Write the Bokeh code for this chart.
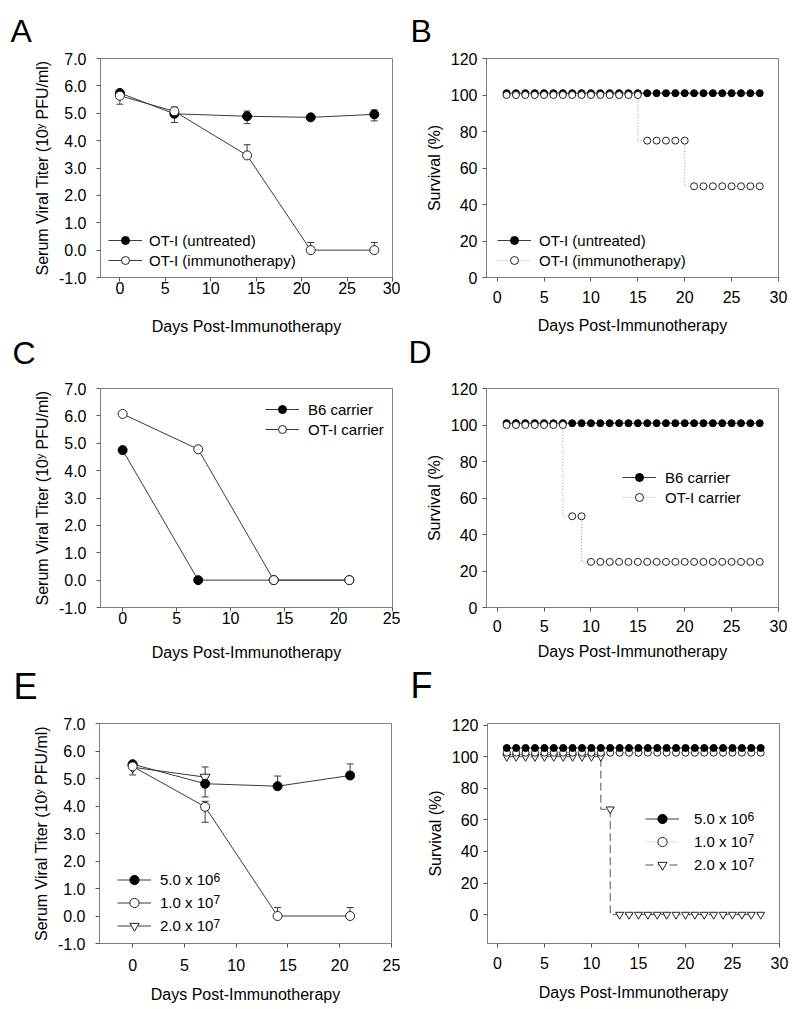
from bokeh.plotting import figure
from bokeh.models import (ColumnDataSource, Whisker, TeeHead, FixedTicker, NumeralTickFormatter,
                          Range1d, Legend, LegendItem, Label, Title)
from bokeh.layouts import column, row
from bokeh.embed import file_html
from bokeh.resources import INLINE

FONT = "Liberation Sans"

# ---------------- Data ----------------
# Panel A: serum viral titer (log10 PFU/ml)
a_days = [0, 6, 14, 21, 28]
a_untreated = [5.74, 4.98, 4.89, 4.85, 4.96]
a_untreated_err_up = [0.10, 0.00, 0.19, 0.00, 0.16]
a_untreated_err_dn = [0.00, 0.32, 0.27, 0.00, 0.24]
a_immuno = [5.64, 5.07, 3.46, 0.0, 0.0]
a_immuno_err_up = [0.00, 0.16, 0.39, 0.28, 0.28]
a_immuno_err_dn = [0.31, 0.00, 0.00, 0.00, 0.00]

# Panel B: survival (%)
surv_days = [1, 2, 3, 4, 5, 6, 7, 8, 9, 10, 11, 12, 13, 14, 15, 16, 17, 18, 19, 20,
             21, 22, 23, 24, 25, 26, 27, 28]
b_untreated = [101, 101, 101, 101, 101, 101, 101, 101, 101, 101, 101, 101, 101, 101,
               101, 101, 101, 101, 101, 101, 101, 101, 101, 101, 101, 101, 101, 101]
b_immuno = [100, 100, 100, 100, 100, 100, 100, 100, 100, 100, 100, 100, 100, 100, 100,
            75, 75, 75, 75, 75, 50, 50, 50, 50, 50, 50, 50, 50]

# Panel C: viral titer, carriers
c_days = [0, 7, 14, 21]
c_b6 = [4.75, 0.0, 0.0, 0.0]
c_ot1 = [6.07, 4.78, 0.0, 0.0]

# Panel D: survival, carriers
d_b6 = [101, 101, 101, 101, 101, 101, 101, 101, 101, 101, 101, 101, 101, 101,
        101, 101, 101, 101, 101, 101, 101, 101, 101, 101, 101, 101, 101, 101]
d_ot1 = [100, 100, 100, 100, 100, 100, 100, 50, 50, 25, 25, 25, 25, 25, 25, 25,
         25, 25, 25, 25, 25, 25, 25, 25, 25, 25, 25, 25]

# Panel E: viral titer by dose
e_days = [0, 7, 14, 21]
e_5e6 = [5.52, 4.81, 4.72, 5.11]
e_5e6_err_up = [0.00, 0.00, 0.37, 0.42]
e_5e6_err_dn = [0.00, 0.48, 0.00, 0.00]
e_1e7 = [5.44, 3.97, 0.0, 0.0]
e_1e7_err_up = [0.00, 0.20, 0.31, 0.31]
e_1e7_err_dn = [0.31, 0.56, 0.00, 0.00]
e_2e7_days = [0, 7]
e_2e7 = [5.41, 5.05]
e_2e7_err_up = [0.00, 0.37]
e_2e7_err_dn = [0.00, 0.00]

# Panel F: survival by dose
f_5e6 = [105.5, 105.5, 105.5, 105.5, 105.5, 105.5, 105.5, 105.5, 105.5, 105.5, 105.5,
         105.5, 105.5, 105.5, 105.5, 105.5, 105.5, 105.5, 105.5, 105.5, 105.5, 105.5,
         105.5, 105.5, 105.5, 105.5, 105.5, 105.5]
f_1e7 = [102.5, 102.5, 102.5, 102.5, 102.5, 102.5, 102.5, 102.5, 102.5, 102.5, 102.5,
         102.5, 102.5, 102.5, 102.5, 102.5, 102.5, 102.5, 102.5, 102.5, 102.5, 102.5,
         102.5, 102.5, 102.5, 102.5, 102.5, 102.5]
f_2e7 = [100, 100, 100, 100, 100, 100, 100, 100, 100, 100, 100, 66.7, 0, 0, 0, 0, 0,
         0, 0, 0, 0, 0, 0, 0, 0, 0, 0, 0]

dose_labels = ["5.0 x 10", "1.0 x 10", "2.0 x 10"]
dose_exponents = ["6", "7", "7"]

titer_ticks = [-1, 0, 1, 2, 3, 4, 5, 6, 7]
surv_ticks = [0, 20, 40, 60, 80, 100, 120]
x30_ticks = [0, 5, 10, 15, 20, 25, 30]
x25_ticks = [0, 5, 10, 15, 20, 25]

XLABEL = "Days Post-Immunotherapy"
YLABEL_T = "Serum Viral Titer (10\u02b8 PFU/ml)"
YLABEL_S = "Survival (%)"

LINE = "#3a3a3a"
FRAME = "#808080"


def make_fig(xr, yr, xticks, yticks, left, right, top, bottom, fh,
             xstand, xlabstand, ystand, ylabstand, yfmt=None):
    p = figure(width=left + 292 + right, height=top + fh + bottom,
               frame_width=292, frame_height=fh,
               x_range=Range1d(*xr), y_range=Range1d(*yr),
               output_backend="svg", toolbar_location=None,
               min_border_left=left, min_border_right=right,
               min_border_top=top, min_border_bottom=bottom)
    p.grid.visible = False
    p.outline_line_color = FRAME
    p.outline_line_width = 1
    p.outline_line_alpha = 1
    p.background_fill_color = "white"
    p.border_fill_color = "white"
    for ax, ticks, st, lst in ((p.xaxis, xticks, xstand, xlabstand),
                               (p.yaxis, yticks, ystand, ylabstand)):
        ax.ticker = FixedTicker(ticks=ticks)
        ax.axis_line_color = FRAME
        ax.major_tick_line_color = "#555555"
        ax.major_tick_out = 4
        ax.major_tick_in = 0
        ax.minor_tick_out = 0
        ax.minor_tick_in = 0
        ax.major_label_text_font = FONT
        ax.major_label_text_font_size = "16px"
        ax.major_label_text_color = "black"
        ax.major_label_standoff = st
        ax.axis_label_text_font = FONT
        ax.axis_label_text_font_size = "16px"
        ax.axis_label_text_font_style = "normal"
        ax.axis_label_text_color = "black"
        ax.axis_label_standoff = lst
    p.xaxis.axis_label = XLABEL
    if yfmt:
        p.yaxis.formatter = NumeralTickFormatter(format=yfmt)
    return p


def letter_above(p, txt, offset, standoff):
    t = p.title
    t.text = txt
    t.text_font = FONT
    t.text_font_size = "32px"
    t.text_font_style = "normal"
    t.text_color = "black"
    t.align = "left"
    t.offset = offset
    t.standoff = standoff


def letter_below(p, txt, offset, standoff, size="32px"):
    # panel letter of the next row, placed under this figure's x-axis title
    p.add_layout(Title(text=txt, text_font=FONT, text_font_size=size,
                       text_font_style="normal", text_color="black",
                       align="left", offset=offset, standoff=standoff), "below")


def whiskers(p, xs, ys, up, dn):
    src = ColumnDataSource(dict(x=xs,
                                upper=[v + e for v, e in zip(ys, up)],
                                lower=[v - e for v, e in zip(ys, dn)]))
    w = Whisker(base="x", upper="upper", lower="lower", source=src,
                line_color=LINE, line_width=1, level="underlay",
                upper_head=TeeHead(size=7, line_color=LINE, line_width=1),
                lower_head=TeeHead(size=7, line_color=LINE, line_width=1))
    p.add_layout(w)


def legend(p, items, loc, row_h, standoff):
    lg = Legend(items=[LegendItem(label=lab, renderers=rs) for lab, rs in items],
                location=loc, padding=2, spacing=0, margin=0,
                glyph_width=34, glyph_height=row_h, label_height=row_h,
                label_standoff=standoff, label_text_font=FONT,
                label_text_font_size="15px", label_text_color="black",
                border_line_color=None, background_fill_alpha=0)
    p.add_layout(lg)


def exponents(p, x, ys):
    for e, y in zip(dose_exponents, ys):
        p.add_layout(Label(x=x, y=y, text=e, text_font=FONT, text_font_size="12px",
                           text_baseline="alphabetic", text_color="black"))


# ---------------- Panel A ----------------
pA = make_fig((-2.13, 30), (-1, 7), x30_ticks, titer_ticks, 100, 8, 58, 100, 219,
              0, 21, 10, 5, "0.0")
pA.yaxis.axis_label = YLABEL_T
whiskers(pA, a_days, a_untreated, a_untreated_err_up, a_untreated_err_dn)
whiskers(pA, a_days, a_immuno, a_immuno_err_up, a_immuno_err_dn)
lA1 = pA.line(a_days, a_untreated, line_color=LINE, line_width=1)
sA1 = pA.scatter(a_days, a_untreated, marker="circle", size=9, fill_color="black",
                 line_color="black")
lA2 = pA.line(a_days, a_immuno, line_color=LINE, line_width=1)
sA2 = pA.scatter(a_days, a_immuno, marker="circle", size=9, fill_color="white",
                 line_color="#222222")
legend(pA, [("OT-I (untreated)", [lA1, sA1]), ("OT-I (immunotherapy)", [lA2, sA2])],
       (8, 7), 20, 7)
letter_above(pA, "A", -90, 20)
letter_below(pA, "C", -88, -10)

# ---------------- Panel B ----------------
pB = make_fig((-1.14, 30), (0, 120), x30_ticks, surv_ticks, 86, 22, 58, 100, 219,
              9, 11, 5, 5)
pB.yaxis.axis_label = YLABEL_S
lB1 = pB.line(surv_days, b_untreated, line_color=LINE, line_width=1)
sB1 = pB.scatter(surv_days, b_untreated, marker="circle", size=7, fill_color="black",
                 line_color="black")
lB2 = pB.step(surv_days, b_immuno, mode="before", line_color="#a0a0a0", line_width=1,
              line_dash="1 2")
sB2 = pB.scatter(surv_days, b_immuno, marker="circle", size=7, fill_color="white",
                 line_color="#222222")
legend(pB, [("OT-I (untreated)", [lB1, sB1]), ("OT-I (immunotherapy)", [lB2, sB2])],
       (11, 7), 20, 8)
letter_above(pB, "B", -76, 20)
letter_below(pB, "D", -78, -10)

# ---------------- Panel C ----------------
pC = make_fig((-2.05, 25), (-1, 7), x25_ticks, titer_ticks, 100, 8, 11, 104, 219,
              0, 17, 10, 5, "0.0")
pC.yaxis.axis_label = YLABEL_T
lC1 = pC.line(c_days, c_b6, line_color=LINE, line_width=1)
sC1 = pC.scatter(c_days, c_b6, marker="circle", size=9, fill_color="black",
                 line_color="black")
lC2 = pC.line(c_days, c_ot1, line_color=LINE, line_width=1)
sC2 = pC.scatter(c_days, c_ot1, marker="circle", size=9, fill_color="white",
                 line_color="#222222")
legend(pC, [("B6 carrier", [lC1, sC1]), ("OT-I carrier", [lC2, sC2])],
       (165, 168), 20, 9)
letter_below(pC, "E", -87, 1, "36px")

# ---------------- Panel D ----------------
pD = make_fig((-1.14, 30), (0, 120), x30_ticks, surv_ticks, 86, 22, 11, 104, 219,
              8, 8, 5, 5)
pD.yaxis.axis_label = YLABEL_S
lD1 = pD.line(surv_days, d_b6, line_color=LINE, line_width=1)
sD1 = pD.scatter(surv_days, d_b6, marker="circle", size=7, fill_color="black",
                 line_color="black")
lD2 = pD.step(surv_days, d_ot1, mode="before", line_color="#a0a0a0", line_width=1,
              line_dash="1 2")
sD2 = pD.scatter(surv_days, d_ot1, marker="circle", size=7, fill_color="white",
                 line_color="#222222")
legend(pD, [("B6 carrier", [lD1, sD1]), ("OT-I carrier", [lD2, sD2])],
       (136, 100), 20, 9)
letter_below(pD, "F", -76, 1, "36px")

# ---------------- Panel E ----------------
pE = make_fig((-3.2, 25), (-1, 7), x25_ticks, titer_ticks, 99, 9, 12, 64, 220,
              11, 12, 10, 5, "0.0")
pE.yaxis.axis_label = YLABEL_T
whiskers(pE, e_days, e_5e6, e_5e6_err_up, e_5e6_err_dn)
whiskers(pE, e_days, e_1e7, e_1e7_err_up, e_1e7_err_dn)
whiskers(pE, e_2e7_days, e_2e7, e_2e7_err_up, e_2e7_err_dn)
lE3 = pE.line(e_2e7_days, e_2e7, line_color=LINE, line_width=1)
sE3 = pE.scatter(e_2e7_days, e_2e7, marker="inverted_triangle", size=10,
                 fill_color="white", line_color="#222222")
lE1 = pE.line(e_days, e_5e6, line_color=LINE, line_width=1)
sE1 = pE.scatter(e_days, e_5e6, marker="circle", size=9, fill_color="black",
                 line_color="black")
lE2 = pE.line(e_days, e_1e7, line_color=LINE, line_width=1)
sE2 = pE.scatter(e_days, e_1e7, marker="circle", size=9, fill_color="white",
                 line_color="#222222")
legend(pE, list(zip(dose_labels, [[lE1, sE1], [lE2, sE2], [lE3, sE3]])), (18, 6), 23, 9)
exponents(pE, 7.81, [1.418, 0.582, -0.255])

# ---------------- Panel F ----------------
pF = make_fig((-1.05, 30), (-18.3, 121), x30_ticks, surv_ticks, 87, 21, 12, 64, 220,
              9, 12, 5, 5)
pF.yaxis.axis_label = YLABEL_S
lF3 = pF.step(surv_days, f_2e7, mode="before", line_color="#555555", line_width=1,
              line_dash="8 4")
sF3 = pF.scatter(surv_days, f_2e7, marker="inverted_triangle", size=8,
                 fill_color="white", line_color="#222222")
lF2 = pF.line(surv_days, f_1e7, line_color="#a0a0a0", line_width=1, line_dash="1 2")
sF2 = pF.scatter(surv_days, f_1e7, marker="circle", size=7, fill_color="white",
                 line_color="#222222")
lF1 = pF.line(surv_days, f_5e6, line_color=LINE, line_width=1)
sF1 = pF.scatter(surv_days, f_5e6, marker="circle", size=7, fill_color="black",
                 line_color="black")
legend(pF, list(zip(dose_labels, [[lF1, sF1], [lF2, sF2], [lF3, sF3]])), (158, 67), 23, 15)
exponents(pF, 26.6, [62.43, 47.87, 33.30])

layout = column(row(pA, pB), row(pC, pD), row(pE, pF))
open("out.html", "w").write(file_html(layout, INLINE))
